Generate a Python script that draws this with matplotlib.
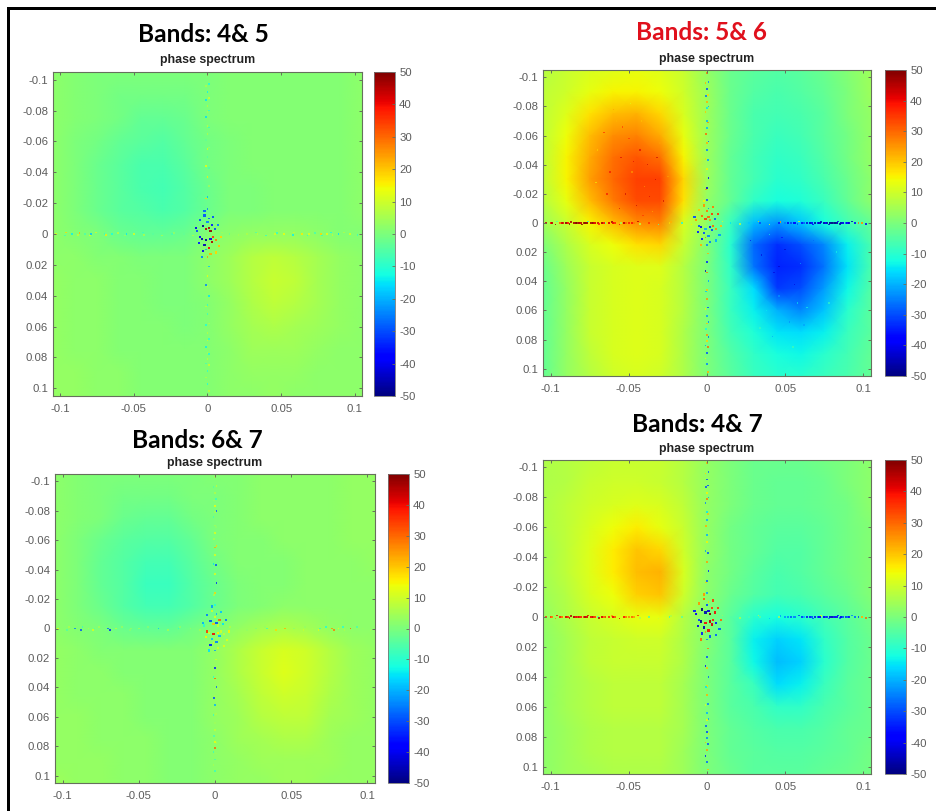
#!/usr/bin/env python3
"""four phase spectrum panels, values read off the picture"""

import matplotlib
matplotlib.use("Agg")
import matplotlib.pyplot as plt
import numpy as np
from matplotlib.colors import Normalize
from matplotlib.patches import Rectangle

W, H = 937, 811

nodes = [-.105, -.09, -.075, -.06, -.045, -.03, -.015, 0, .015, .03, .045, .06, .075, .09, .105]

field_45 = [
    [2, 1, 0, 0, 0, 0, 0, 0, 1, 1, 1, 1, 1, 1, 2],
    [2, 1, 0, -1, -1, -1, -1, 0, 1, 1, 1, 1, 1, 1, 2],
    [2, 1, 0, -1, -3, -3, -2, 0, 1, 1, 1, 1, 1, 1, 2],
    [2, 0, -1, -3, -4, -5, -3, -1, 0, 1, 1, 1, 1, 1, 2],
    [2, 0, -2, -4, -6, -6, -4, -1, 0, 1, 1, 1, 1, 1, 2],
    [2, 0, -2, -4, -6, -7, -5, -2, 0, 0, 1, 1, 1, 1, 2],
    [2, 0, -2, -4, -5, -6, -5, -2, 0, 0, 1, 1, 1, 1, 2],
    [2, 1, 0, -2, -3, -3, -2, 1, 2, 3, 3, 3, 2, 1, 1],
    [2, 2, 1, 1, 0, 0, 0, 2, 4, 7, 8, 7, 5, 3, 2],
    [3, 2, 2, 1, 1, 0, 0, 2, 4, 7, 9, 8, 5, 3, 2],
    [3, 2, 2, 1, 1, 0, 0, 1, 3, 6, 8, 7, 5, 3, 2],
    [3, 2, 2, 1, 1, 1, 0, 1, 3, 5, 6, 5, 4, 3, 2],
    [3, 2, 2, 1, 1, 1, 1, 1, 2, 4, 4, 4, 3, 2, 2],
    [3, 3, 2, 2, 1, 1, 1, 1, 2, 3, 3, 3, 2, 2, 2],
    [3, 3, 2, 2, 1, 1, 1, 1, 2, 2, 3, 2, 2, 2, 2],
]

field_56 = [
    [7, 9, 11, 12, 13, 12, 9, 3, -2, -4, -5, -4, -2, 1, 4],
    [8, 10, 13, 15, 15, 14, 10, 4, -2, -5, -6, -5, -3, 0, 4],
    [8, 12, 17, 21, 22, 18, 11, 4, -2, -6, -7, -6, -4, 0, 3],
    [8, 14, 21, 26, 27, 23, 13, 4, -2, -6, -8, -7, -4, -1, 3],
    [8, 15, 23, 29, 32, 29, 15, 4, -3, -7, -9, -8, -5, -1, 3],
    [8, 15, 24, 30, 34, 34, 18, 4, -3, -7, -10, -9, -6, -2, 2],
    [7, 13, 21, 28, 33, 33, 17, 3, -3, -9, -12, -11, -8, -3, 2],
    [4, 9, 15, 21, 26, 27, 11, 2, -8, -19, -23, -18, -12, -7, -3],
    [0, 6, 11, 14, 17, 18, 9, 1, -10, -27, -33, -30, -24, -14, -6],
    [-2, 4, 9, 11, 12, 12, 7, 0, -9, -26, -34, -33, -26, -15, -6],
    [-3, 3, 9, 11, 12, 11, 7, 0, -8, -16, -32, -30, -22, -13, -5],
    [-3, 3, 9, 11, 12, 11, 7, 0, -8, -14, -20, -24, -18, -10, -4],
    [-3, 3, 9, 11, 12, 11, 6, 0, -7, -11, -15, -16, -14, -8, -4],
    [-3, 3, 8, 11, 12, 11, 6, 0, -5, -9, -12, -13, -10, -7, -3],
    [-3, 3, 7, 10, 11, 10, 6, 0, -4, -8, -10, -10, -8, -6, -3],
]

field_67 = [
    [2, 1, 0, 0, 0, 0, 0, 1, 1, 2, 2, 2, 2, 3, 3],
    [2, 1, 0, -1, -1, -1, 0, 0, 1, 2, 2, 2, 2, 3, 3],
    [2, 1, 0, -2, -3, -3, -1, 0, 1, 2, 2, 2, 2, 3, 3],
    [2, 0, -2, -4, -5, -5, -3, 0, 1, 1, 2, 2, 2, 3, 3],
    [2, 0, -3, -5, -7, -7, -4, -1, 1, 1, 1, 2, 2, 2, 3],
    [2, 0, -3, -5, -8, -8, -5, -2, 0, 1, 1, 2, 2, 2, 2],
    [2, 0, -2, -5, -7, -7, -5, -2, 0, 1, 2, 2, 2, 2, 2],
    [2, 1, 0, -2, -3, -3, -1, 1, 3, 5, 6, 5, 3, 2, 2],
    [3, 2, 1, 1, 1, 1, 1, 3, 6, 9, 11, 10, 7, 4, 3],
    [3, 2, 2, 1, 1, 1, 1, 3, 6, 9, 12, 10, 7, 4, 3],
    [3, 2, 2, 2, 1, 1, 1, 3, 5, 8, 10, 9, 6, 4, 3],
    [3, 3, 2, 2, 1, 1, 1, 3, 4, 7, 8, 8, 5, 4, 3],
    [3, 3, 2, 2, 2, 1, 1, 2, 4, 5, 6, 6, 4, 3, 3],
    [3, 3, 3, 2, 2, 1, 1, 2, 3, 4, 4, 4, 4, 3, 3],
    [4, 3, 3, 2, 2, 1, 1, 2, 3, 3, 4, 4, 3, 3, 3],
]

field_47 = [
    [6, 7, 8, 9, 9, 9, 7, 3, 0, -2, -2, -2, -1, 0, 2],
    [6, 7, 9, 10, 10, 9, 7, 3, 0, -2, -3, -3, -2, 0, 2],
    [6, 8, 10, 11, 12, 11, 8, 3, 0, -2, -3, -3, -2, -1, 2],
    [6, 8, 11, 14, 16, 13, 9, 3, -1, -3, -4, -4, -3, -1, 1],
    [5, 8, 12, 16, 20, 18, 10, 3, -1, -3, -5, -5, -3, -1, 1],
    [5, 8, 12, 16, 21, 22, 11, 2, -1, -4, -6, -5, -3, -1, 1],
    [4, 7, 11, 14, 19, 20, 10, 2, -2, -5, -7, -6, -4, -2, 1],
    [3, 6, 9, 11, 13, 13, 7, 1, -4, -10, -12, -10, -7, -4, -1],
    [2, 5, 8, 9, 10, 10, 6, 1, -4, -14, -17, -15, -9, -5, -2],
    [2, 5, 8, 9, 9, 9, 6, 0, -4, -13, -19, -17, -10, -5, -2],
    [2, 5, 7, 8, 8, 8, 5, 0, -4, -8, -16, -14, -8, -4, -2],
    [2, 5, 7, 8, 8, 8, 5, 0, -4, -6, -9, -9, -6, -4, -2],
    [2, 4, 6, 7, 7, 7, 5, 0, -3, -5, -6, -6, -5, -3, -2],
    [2, 4, 6, 7, 7, 7, 4, 0, -3, -4, -5, -5, -4, -3, -1],
    [2, 4, 5, 6, 6, 6, 4, 0, -2, -4, -4, -4, -3, -2, -1],
]

# noisy pixels along the two zero lines
cross_pos = [-.103, -.097, -.096, -.092, -.088, -.087, -.083, -.08, -.079, -.076, -.07, -.069, -.065,
             -.061, -.056, -.055, -.05, -.044, -.043, -.037, -.031, -.024, -.023, -.016, -.01,
             .01, .015, .021, .027, .033, .034, .04, .046, .047, .052, .058, .059, .064, .068,
             .069, .073, .077, .078, .081, .084, .085, .089, .093, .097, .102]
cross_off = [0, .001, -.001, 0, .0008, -.0008, 0, .001, 0, -.001, 0, .0008, 0, -.0008, .001, 0, 0, -.001, .0008, 0,
             .001, 0, -.0008, 0, .001, -.001, 0, .0008, 0, -.001, 0, .001, 0, -.0008, 0, .0008, -.001, 0, .001, 0,
             -.0008, 0, .001, 0, -.001, .0008, 0, -.001, 0, .0008]

horiz_45 = [12, -8, 18, -14, 9, 22, -6, 14, -18, 10, -10, 16, -12, 8, 4, -15, 12, -8, 6, -4, 5, -6, 3, -3, 6,
            4, -3, 5, 6, -5, 8, -8, 12, -10, 14, -14, 9, 16, -10, 12, -7, 18, -9, 14, -12, 8, -16, 6, 12, -8]
horiz_56 = [45, 48, -5, 42, 50, 46, 48, 50, 47, -10, 44, 38, -2, 46, 40, 5, 38, 44, 8, 35, -5, 18, 22, -12, 15,
            12, -15, 8, -18, 20, -30, 8, -35, 25, -40, -30, 12, -42, -38, -48, -45, -50, -44, -48, -40, -46, -30, -45, 30, -38]
horiz_67 = [14, -5, 6, -25, -30, -8, 6, 12, -4, 5, -28, -35, 8, 3, 1, 2, 4, 1, -4, -18, 5, -10, 2, 3, 4,
            6, 2, 3, 1, 3, -8, 18, 22, 5, 2, 9, 3, 6, 12, -8, -12, 25, 28, 14, -10, 6, 30, -6, 3, 5]
horiz_47 = [35, 28, 40, 12, 44, 46, 40, 8, 38, 42, -6, 45, 38, 25, 42, 12, 28, 35, 6, -5, 10, -8, 6, -4, 5,
            3, -5, 6, -6, 8, -4, -18, 5, -22, -25, -10, -32, -38, -30, -40, 12, -35, -28, -42, -38, -30, -35, -25, -32, 30]

vert_45 = [8, -12, 6, -14, 10, -15, 7, -10, 5, -16, 8, -9, 6, -3, 4, 12, -5, 14, -6, 16, 4, -20, 18, -25, -30,
           -22, 25, -18, 14, -25, 10, -15, -10, 8, -8, 6, -12, 7, -10, 9, -14, 5, -12, 8, -6, 10, -10, 6, -12, 8]
vert_56 = [28, -25, 22, -30, 18, -26, 22, -22, -15, 20, -20, 26, -18, 30, -30, 22, -25, 18, -22, 15, -38, -42, 25, -30, -25,
           30, -25, 22, -35, -45, 28, -22, 20, -18, 25, -30, 15, -22, -25, 20, -12, 25, -28, 18, -22, 30, -30, 15, -25, 22]
vert_67 = [5, 8, -5, 6, -8, 3, 14, -28, 5, -6, 4, 2, 12, 5, 18, 22, 12, -15, -30, 12, -35, 18, 6, -12, -20,
           15, -22, 10, -35, -12, 30, -28, 5, -30, -20, 6, -8, 4, 3, 8, -6, 14, 6, 30, -8, 4, -6, 5, -8, 3]
vert_47 = [22, -28, 18, -30, -32, -30, 15, -22, 28, -25, -15, 20, -20, 22, 8, -20, 15, -22, -30, 24, -35, -28, 20, -22, 18,
           26, -25, 28, -30, -38, 20, -28, 18, -15, 22, -25, 12, -20, -22, 15, -28, -32, 18, -25, 22, -30, 24, -35, -28, 20]

# the nearly solid stretches of the horizontal line in the two strong panels
dense_x = [-.1, -.099, -.094, -.093, -.09, -.089, -.085, -.084, -.082, -.081, -.078, -.077, -.074, -.073, -.072,
           -.067, -.066, -.063, -.06, -.059, -.053, -.052, -.048, -.047,
           .05, .054, .056, .061, .062, .066, .067, .071, .072, .075, .076, .079, .08, .082, .083, .086, .087, .09, .091, .095, .099]
dense_56 = [38, 44, 30, 42, 48, 38, 46, 50, 48, 44, 50, 48, 46, 50, 42, 45, 38, 42, 40, 36, 44, 30, 38, 28,
            -25, -30, -38, -35, -28, -42, -38, -35, -44, -46, -40, -48, -50, -50, -46, -44, -40, -38, -42, -35, 25]
dense_47 = [35, 28, 38, 30, 42, 36, 45, 40, 44, 38, 46, 42, 40, 44, 35, 42, 30, 36, 40, 32, 38, 28, 30, 24,
            -22, -28, -25, -32, -20, -35, -30, -28, -38, -40, -32, -42, -44, -38, -36, -40, -30, -28, -35, -26, 22]

# grain in the two blobs of Bands 5& 6
grain_x = [-.07, -.066, -.062, -.058, -.055, -.052, -.05, -.048, -.045, -.043, -.04, -.038, -.035, -.033, -.03, -.028, -.025,
           -.064, -.06, -.054, -.047, -.042, -.037, -.032, -.071, -.056, -.049, -.041,
           .028, .032, .035, .038, .04, .043, .046, .05, .053, .056, .06, .064, .068, .072,
           .034, .042, .048, .055, .062, .07, .078, .083, .046, .058]
grain_y = [-.05, -.062, -.035, -.07, -.045, -.02, -.058, -.035, -.012, -.05, -.025, -.04, -.008, -.03, -.055, -.015, -.032,
           -.02, -.078, -.066, -.042, -.07, -.018, -.045, -.028, -.01, -.082, -.005,
           .012, .04, .022, .06, .008, .034, .05, .018, .068, .042, .028, .058, .012, .045,
           .072, .078, .01, .085, .07, .03, .055, .02, .03, .055]
grain_v = [18, 38, 40, 22, 42, 44, 36, 24, 45, 42, 24, 44, 22, 45, 24, 44, 24,
           40, 24, 36, 42, 20, 42, 44, 14, 42, 12, 36,
           -40, -20, -42, -14, -12, -42, -22, -44, -24, -42, -20, -12, -28, -25,
           -8, -22, -38, -6, -22, -28, -8, -12, -44, -14]

# noisy pixels round the origin
cluster_x = [-.008, -.006, -.005, -.004, -.003, -.003, -.002, -.002, -.001, -.001, 0, .001, .001, .002, .002,
             .003, .003, .004, .005, .006, .007, .008, .009, -.007, -.005, -.002, .002, .004, .006, -.004]
cluster_y = [-.004, .006, -.009, .003, -.005, .011, -.012, .007, -.003, .004, -.008, .009, -.004, .003, -.002,
             -.006, .005, .002, -.003, .004, -.006, .008, .002, -.002, .002, -.015, .013, -.011, .012, .015]

cluster_45 = [-40, -35, -30, -45, -48, -40, -30, -45, 45, -48, -25, 40, 46, -40, 48, -35, 45, 35, -30, 28, -25, 20, 18, -30, -38, -28, 22, -30, 18, -25]
cluster_56 = [-30, -35, 20, -40, 30, -35, 25, -30, 35, -20, 28, -25, 30, -35, 25, 35, -30, 30, -28, 25, 35, -22, 20, 25, -30, 15, -25, 28, -20, 22]
cluster_67 = [-20, 15, -25, 12, -30, -35, 10, -18, 20, 40, 12, -25, -30, 15, 8, 30, -20, 10, -15, 8, -25, 12, 15, -10, 35, -22, 10, -18, 12, -15]
cluster_47 = [-35, -40, 25, -48, -50, -35, 30, -45, -45, 40, -30, 40, -42, 45, 50, 35, 42, 38, 40, -35, 35, -28, 30, -40, -32, 25, -30, 35, -28, 30]

y_ticks = [-.1, -.08, -.06, -.04, -.02, 0, .02, .04, .06, .08, .1]
y_labels = ["-0.1", "-0.08", "-0.06", "-0.04", "-0.02", "0", "0.02", "0.04", "0.06", "0.08", "0.1"]
x_ticks = [-.1, -.05, 0, .05, .1]
x_labels = ["-0.1", "-0.05", "0", "0.05", "0.1"]
cbar_ticks = [-50, -40, -30, -20, -10, 0, 10, 20, 30, 40, 50]

TICK_GREY = "#5c5c5c"
SPINE = "#66705c"

plt.rcParams["axes.unicode_minus"] = False
plt.rcParams["font.family"] = ["Liberation Sans", "DejaVu Sans"]


def box(l, t, r, b):
    # pixel rect to figure fractions
    return [l / W, 1 - b / H, (r - l) / W, (b - t) / H]


def specks(ax, x, y, v, norm, size=1.6, alpha=0.8):
    ax.scatter(x, y, c=v, cmap="jet", norm=norm, s=size, marker="s", linewidths=0, alpha=alpha)


def panel(fig, ax_px, cb_left, title, title_xy, title_color, sub_y, field, horiz, vert, cluster, dense=None, grain=False):
    l, t, r, b = ax_px
    ax = fig.add_axes(box(l, t, r, b))
    norm = Normalize(-50, 50)
    mesh = ax.pcolormesh(nodes, nodes, np.array(field, float), cmap="jet", norm=norm, shading="gouraud")
    if grain:
        specks(ax, grain_x, grain_y, grain_v, norm, size=1.0, alpha=0.6)
    specks(ax, cross_pos, cross_off, horiz, norm)
    specks(ax, cross_off, cross_pos, vert, norm)
    if dense is not None:
        specks(ax, dense_x, [0] * len(dense_x), dense, norm, size=2.4, alpha=0.9)
    specks(ax, cluster_x, cluster_y, cluster, norm, size=2.4, alpha=0.9)
    ax.set_xlim(-.105, .105)
    ax.set_ylim(.105, -.105)
    ax.set_xticks(x_ticks, x_labels)
    ax.set_yticks(y_ticks, y_labels)
    ax.tick_params(direction="in", top=True, right=True, length=2.5, width=0.7, color=SPINE,
                   labelcolor=TICK_GREY, labelsize=8.2)
    ax.tick_params(axis="x", pad=5.5)
    ax.tick_params(axis="y", pad=3.5)
    for s in ax.spines.values():
        s.set_color(SPINE)
        s.set_linewidth(0.8)

    cax = fig.add_axes(box(cb_left, t, cb_left + 21, b))
    cb = fig.colorbar(mesh, cax=cax)
    cb.set_ticks(cbar_ticks, labels=[str(v) for v in cbar_ticks])
    cax.tick_params(direction="in", length=2, width=0.6, color=SPINE,
                    labelcolor=TICK_GREY, labelsize=8.2, pad=3)
    cb.outline.set_edgecolor("#777777")
    cb.outline.set_linewidth(0.6)

    zero_px = (l + r) / 2
    fig.text(zero_px / W, 1 - sub_y / H, "phase spectrum", fontsize=8.9, fontweight="bold",
             color="#222222", ha="center", va="center")
    fig.text(title_xy[0] / W, 1 - title_xy[1] / H, title, fontsize=17.6, fontweight="bold", family="Lato",
             color=title_color, ha="center", va="center")


def main():
    fig = plt.figure(figsize=(W / 100, H / 100), dpi=100, facecolor="white")

    # black frame of the slide, open at the right and at the bottom
    fig.add_artist(Rectangle((7 / W, 0), 3.5 / W, 1 - 7 / H, transform=fig.transFigure, color="black", lw=0))
    fig.add_artist(Rectangle((7 / W, 1 - 9.5 / H), 1 - 7 / W, 2.5 / H, transform=fig.transFigure, color="black", lw=0))

    panel(fig, (53, 72, 362, 396), 374, "Bands: 4& 5", (203, 35), "black", 60, field_45, horiz_45, vert_45, cluster_45)
    panel(fig, (543, 70, 871, 376), 885, "Bands: 5& 6", (701, 33), "#e0101c", 59, field_56, horiz_56, vert_56, cluster_56, dense=dense_56, grain=True)
    panel(fig, (55, 474, 375, 783), 388, "Bands: 6& 7", (197, 440), "black", 463, field_67, horiz_67, vert_67, cluster_67)
    panel(fig, (543, 460, 871, 774), 885, "Bands: 4& 7", (697, 424), "black", 449, field_47, horiz_47, vert_47, cluster_47, dense=dense_47)

    fig.savefig("out.png", dpi=100)
    return 0


if __name__ == "__main__":
    main()
